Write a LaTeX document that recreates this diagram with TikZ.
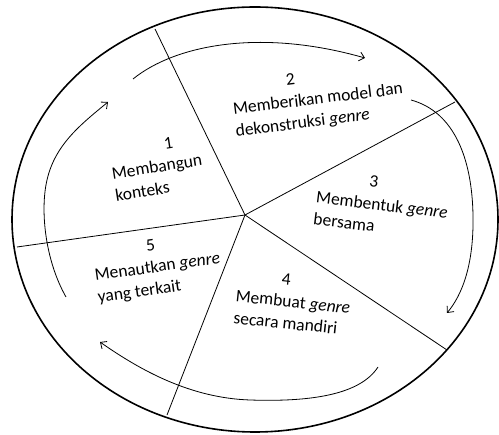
\documentclass[tikz,border=0pt]{standalone}
\usepackage{fontspec}
\setmainfont{Carlito}
\usetikzlibrary{arrows.meta}
\tikzset{
  spoke/.style={line width=0.8pt},
  cyc/.style={line width=0.8pt,-{Straight Barb[length=5pt,width=9pt]}},
  lbl/.style={font=\fontsize{17.5}{22}\selectfont,align=left,inner sep=0pt},
}
\begin{document}
\begin{tikzpicture}[x=1pt,y=-1pt]
\useasboundingbox (0,0) rectangle (499,435);
\draw[line width=1.6pt] (255,219.5) ellipse [x radius=243, y radius=212.5];
\coordinate (c) at (245,215);
\coordinate (s1) at (155,29);
\coordinate (s2) at (455,102);
\coordinate (s3) at (447,350);
\coordinate (s4) at (167,415);
\coordinate (s5) at (17,247);
\foreach \s in {s1,s2,s3,s4,s5} \draw[spoke] (c) -- (\s);
% labels
\node[lbl,rotate=9] (t1) at (157,167) {\hspace*{56pt}1\\Membangun\\konteks};
\node[lbl,rotate=7] (t2) at (318,100) {\hspace*{56pt}2\\Memberikan model dan\\dekonstruksi \textit{genre}};
\node[lbl,rotate=-7] (t3) at (382,205) {\hspace*{51pt}3\\Membentuk \textit{genre}\\bersama};
\node[lbl,rotate=-6] (t4) at (293,302) {\hspace*{44pt}4\\Membuat \textit{genre}\\secara mandiri};
\node[lbl,rotate=8] (t5) at (157.5,268) {\hspace*{55pt}5\\Menautkan \textit{genre}\\yang terkait};
% cycle arrows
\coordinate (a1s) at (133,79);
\coordinate (a1e) at (365,58);
\draw[cyc] (a1s) .. controls (175,45) and (260,28) .. (a1e);
\coordinate (a2s) at (411,100);
\coordinate (a2m) at (473,215);
\coordinate (a2e) at (447,313);
\draw[cyc] (a2s) .. controls (455,112) and (472,160) .. (a2m) .. controls (474,265) and (462,295) .. (a2e);
\coordinate (a3s) at (378,367);
\coordinate (a3m) at (250,400);
\coordinate (a3e) at (100,342);
\draw[cyc] (a3s) .. controls (360,395) and (310,402) .. (a3m) .. controls (190,398) and (140,370) .. (a3e);
\coordinate (a4s) at (66,297);
\coordinate (a4m) at (47,180);
\coordinate (a4e) at (108,102);
\draw[cyc] (a4s) .. controls (45,260) and (40,210) .. (a4m) .. controls (55,145) and (80,125) .. (a4e);
\end{tikzpicture}
\end{document}
